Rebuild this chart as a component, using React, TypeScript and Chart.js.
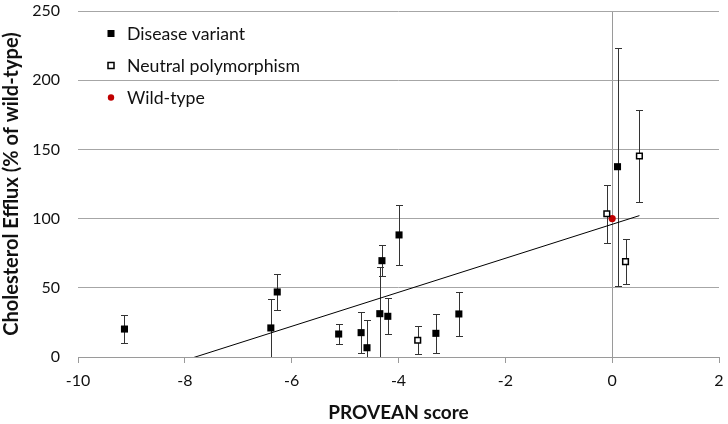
import React, { useEffect, useRef } from "react";
import { Chart, registerables } from "chart.js";

Chart.register(...registerables);

// PROVEAN score vs cholesterol efflux
const diseaseX = [-9.13, -6.39, -6.27, -5.12, -4.7, -4.59, -4.35, -4.31, -4.2, -3.99, -3.3, -2.87, 0.1];
const diseaseY = [20.2, 21, 47, 16.6, 17.6, 6.7, 31.3, 69.6, 29.4, 88.2, 17.1, 31.1, 137.5];
const diseaseErr = [10, 21, 13, 7, 15, 20, 33.5, 11, 13, 21.5, 14, 16, 86];

const neutralX = [-3.64, -0.1, 0.25, 0.51];
const neutralY = [12.1, 103.5, 68.9, 145.2];
const neutralErr = [10, 21, 16, 33];

const wildX = [0];
const wildY = [100];

const seriesLabels = ["Disease variant", "Neutral polymorphism", "Wild-type"];
const xTitle = "PROVEAN score";
const yTitle = "Cholesterol Efflux (% of wild-type)";
const xMin = -10, xMax = 2, xStep = 2;
const yMin = 0, yMax = 250, yStep = 50;

const FONT = "Lato, 'Open Sans', sans-serif";

function pts(xs: number[], ys: number[]) {
  return xs.map((x, i) => ({ x, y: ys[i] }));
}

function trend() {
  const xs = [...diseaseX, ...neutralX, ...wildX];
  const ys = [...diseaseY, ...neutralY, ...wildY];
  const n = xs.length;
  const mx = xs.reduce((a, b) => a + b, 0) / n;
  const my = ys.reduce((a, b) => a + b, 0) / n;
  let sxy = 0, sxx = 0;
  xs.forEach((x, i) => { sxy += (x - mx) * (ys[i] - my); sxx += (x - mx) * (x - mx); });
  const b = sxy / sxx;
  const a = my - b * mx;
  const lo = Math.min(...xs), hi = Math.max(...xs);
  return [{ x: lo, y: a + b * lo }, { x: hi, y: a + b * hi }];
}

const errorBarPlugin = {
  id: "errorBars",
  beforeDatasetsDraw(chart: any) {
    const { ctx, chartArea, scales } = chart;
    const sx = scales.x, sy = scales.y;
    const sets: [number[], number[], number[]][] = [
      [diseaseX, diseaseY, diseaseErr],
      [neutralX, neutralY, neutralErr],
    ];
    ctx.save();
    ctx.beginPath();
    ctx.rect(chartArea.left, chartArea.top, chartArea.right - chartArea.left, chartArea.bottom - chartArea.top);
    ctx.clip();
    ctx.strokeStyle = "#333";
    ctx.lineWidth = 1;
    sets.forEach(([xs, ys, es]) => {
      xs.forEach((x, i) => {
        const px = Math.round(sx.getPixelForValue(x)) + 0.5;
        const t = Math.round(sy.getPixelForValue(ys[i] + es[i])) + 0.5;
        const b = Math.round(sy.getPixelForValue(ys[i] - es[i])) + 0.5;
        ctx.beginPath();
        ctx.moveTo(px, t);
        ctx.lineTo(px, b);
        ctx.moveTo(px - 3.5, t);
        ctx.lineTo(px + 3.5, t);
        ctx.moveTo(px - 3.5, b);
        ctx.lineTo(px + 3.5, b);
        ctx.stroke();
      });
    });
    ctx.restore();
  },
};

const legendPlugin = {
  id: "customLegend",
  afterDraw(chart: any) {
    const { ctx, chartArea } = chart;
    const mx = chartArea.left + 33;
    const tx = chartArea.left + 49;
    ctx.save();
    seriesLabels.forEach((label, i) => {
      const y = chartArea.top + 22.5 + i * 32;
      if (i === 0) {
        ctx.fillStyle = "#000";
        ctx.fillRect(mx - 3.5, y - 3.5, 7, 7);
      } else if (i === 1) {
        ctx.fillStyle = "#fff";
        ctx.strokeStyle = "#000";
        ctx.lineWidth = 1.5;
        ctx.fillRect(mx - 3, y - 3, 6, 6);
        ctx.strokeRect(mx - 3, y - 3, 6, 6);
      } else {
        ctx.fillStyle = "#c00000";
        ctx.beginPath();
        ctx.arc(mx, y, 3.2, 0, Math.PI * 2);
        ctx.fill();
      }
      ctx.fillStyle = "#111";
      ctx.font = `17.7px ${FONT}`;
      ctx.textBaseline = "middle";
      ctx.textAlign = "left";
      ctx.fillText(label, tx, y + 1);
    });
    ctx.restore();
  },
};

export default function App() {
  const ref = useRef<HTMLCanvasElement | null>(null);
  useEffect(() => {
    document.body.style.margin = "0";
    if (!ref.current) return;
    const chart = new Chart(ref.current, {
      type: "scatter",
      data: {
        datasets: [
          {
            label: seriesLabels[0],
            data: pts(diseaseX, diseaseY),
            pointStyle: "rect",
            pointRadius: 5,
            backgroundColor: "#000",
            borderColor: "#000",
            borderWidth: 0,
          },
          {
            label: seriesLabels[1],
            data: pts(neutralX, neutralY),
            pointStyle: "rect",
            pointRadius: 4,
            backgroundColor: "#fff",
            borderColor: "#000",
            borderWidth: 1.5,
          },
          {
            label: seriesLabels[2],
            data: pts(wildX, wildY),
            pointStyle: "circle",
            pointRadius: 3.6,
            backgroundColor: "#c00000",
            borderColor: "#c00000",
            borderWidth: 0,
          },
          {
            type: "line",
            label: "Trend",
            data: trend(),
            showLine: true,
            pointRadius: 0,
            borderColor: "#000",
            borderWidth: 1,
            fill: false,
          } as any,
        ],
      },
      options: {
        animation: false,
        responsive: false,
        layout: { padding: { top: 11, right: 9, left: 0, bottom: 0 } },
        plugins: { legend: { display: false }, tooltip: { enabled: false } },
        scales: {
          x: {
            type: "linear",
            min: xMin,
            max: xMax,
            ticks: { stepSize: xStep, color: "#111", font: { family: FONT, size: 16 }, padding: 8 },
            grid: {
              color: (c: any) => (c.tick && c.tick.value === 0 ? "#9a9a9a" : "rgba(0,0,0,0)"),
              tickColor: "#9a9a9a",
              tickLength: 6,
              lineWidth: 1,
            },
            border: { display: true, color: "#9a9a9a" },
            title: {
              display: true,
              text: xTitle,
              color: "#111",
              font: { family: FONT, size: 19, weight: "bold" },
              padding: { top: 0, bottom: 0 },
            },
            afterFit: (s: any) => {
              s.height = 67;
              s.paddingLeft = 0;
              s.paddingRight = 0;
            },
          },
          y: {
            type: "linear",
            min: yMin,
            max: yMax,
            ticks: { stepSize: yStep, color: "#111", font: { family: FONT, size: 16 }, padding: 18 },
            grid: { color: "#a6a6a6", drawTicks: false, lineWidth: 1 },
            border: { display: false },
            title: {
              display: true,
              text: yTitle,
              color: "#111",
              font: { family: FONT, size: 20, weight: "bold" },
              padding: { top: 0, bottom: 4 },
            },
            afterFit: (s: any) => {
              s.width = 78;
              s.paddingTop = 0;
              s.paddingBottom = 0;
            },
          },
        },
      },
      plugins: [errorBarPlugin, legendPlugin],
    });
    return () => chart.destroy();
  }, []);
  return (
    <div style={{ width: 728, height: 424 }}>
      <canvas ref={ref} width={728} height={424} />
    </div>
  );
}
